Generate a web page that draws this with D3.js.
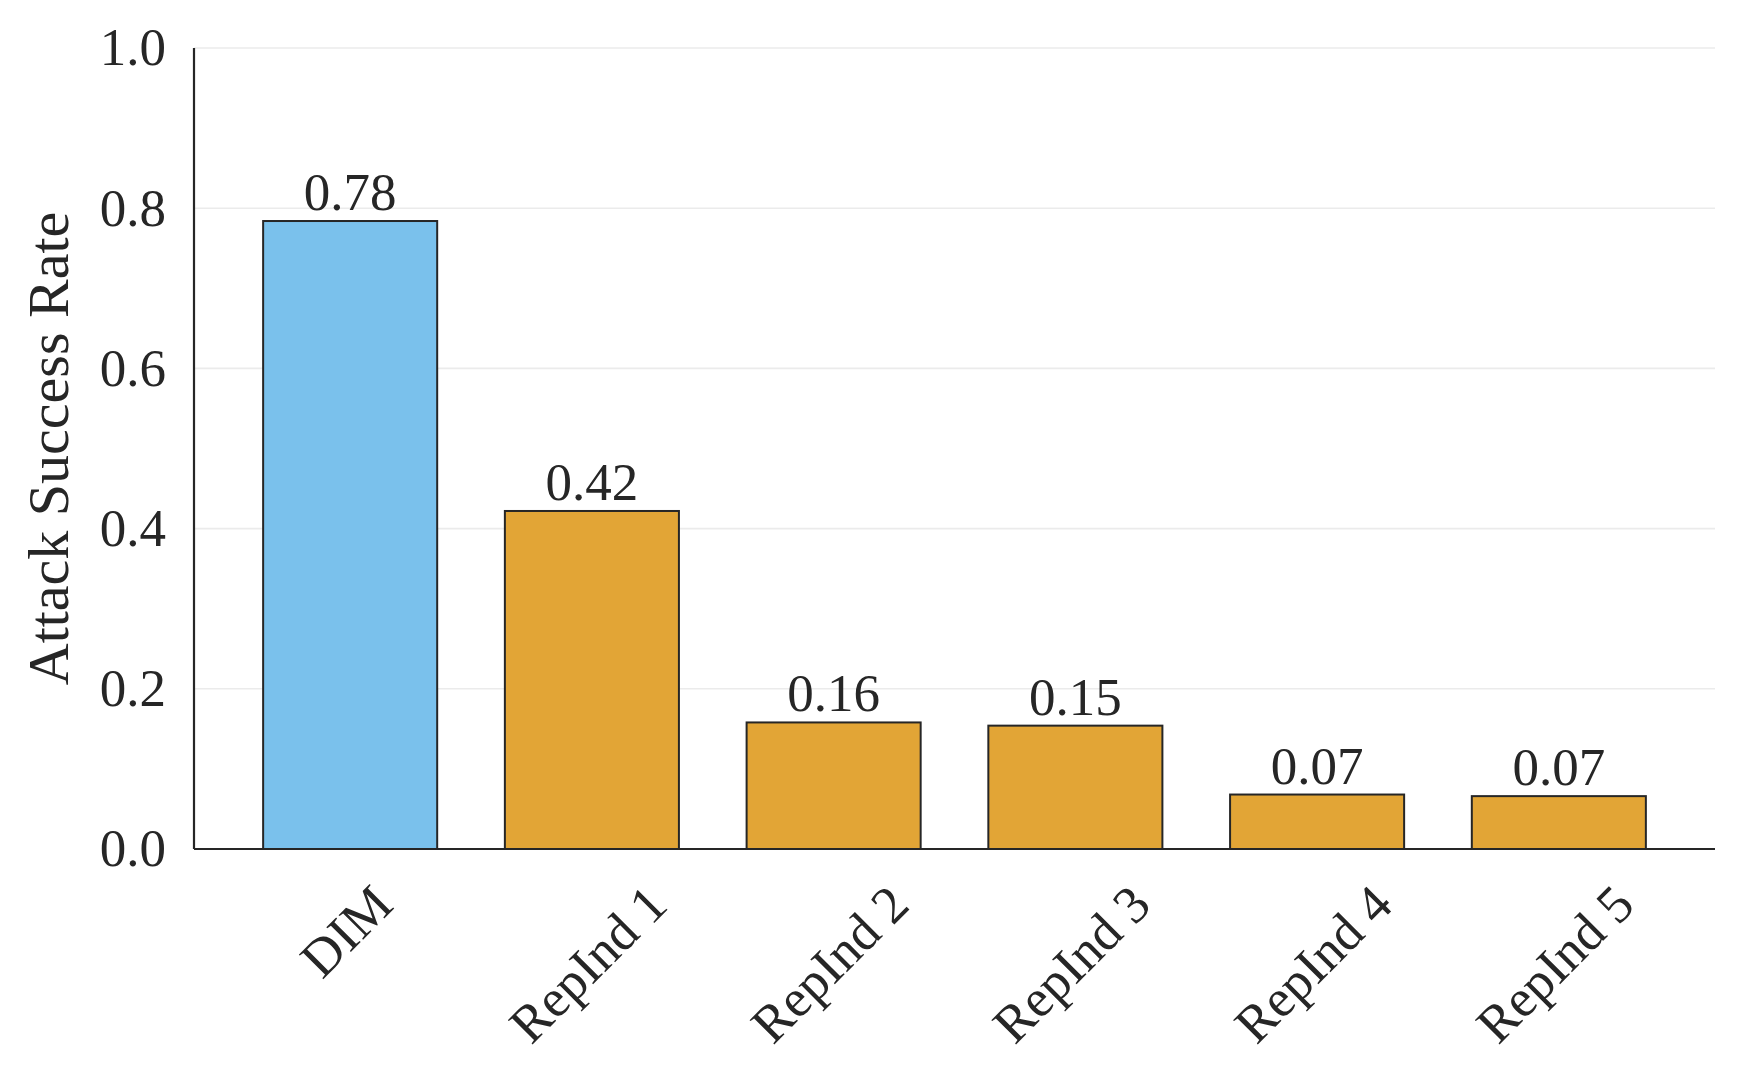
<!DOCTYPE html>
<html>
<head>
<meta charset="utf-8">
<script src="https://cdn.jsdelivr.net/npm/d3@7/dist/d3.min.js"></script>
<style>
  html, body { margin: 0; padding: 0; background: #ffffff; }
  svg { display: block; }
  text { font-family: "Liberation Serif", "Times New Roman", serif; fill: #262626; }
</style>
</head>
<body>
<svg id="chart" width="1744" height="1083"></svg>
<script>
const categories = ["DIM", "RepInd 1", "RepInd 2", "RepInd 3", "RepInd 4", "RepInd 5"];
const values = [0.784, 0.422, 0.158, 0.154, 0.068, 0.066];
const barColors = ["#7AC1EC", "#E2A536", "#E2A536", "#E2A536", "#E2A536", "#E2A536"];
const yTicks = [0.0, 0.2, 0.4, 0.6, 0.8, 1.0];
const yLabel = "Attack Success Rate";

(function () {
const svg = d3.select("#chart");
const mLeft = 194, mRight = 1715, mTop = 48, mBottom = 849;
const ink = "#262626";

const x = d3.scaleBand().domain(categories).range([mLeft, mRight])
  .paddingInner(0.28).paddingOuter(0.286);
const y = d3.scaleLinear().domain([0, 1]).range([mBottom, mTop]);

// grid
svg.append("g").selectAll("line").data(yTicks).join("line")
  .attr("x1", mLeft).attr("x2", mRight)
  .attr("y1", d => y(d)).attr("y2", d => y(d))
  .attr("stroke", "#ebebeb").attr("stroke-width", 1.6);

// bars
svg.append("g").selectAll("rect").data(categories).join("rect")
  .attr("x", d => x(d))
  .attr("width", x.bandwidth())
  .attr("y", (d, i) => y(values[i]))
  .attr("height", (d, i) => y(0) - y(values[i]))
  .attr("fill", (d, i) => barColors[i])
  .attr("stroke", ink).attr("stroke-width", 2);

// value labels
const fmt = d3.format(".2f");
svg.append("g").selectAll("text").data(categories).join("text")
  .attr("x", d => x(d) + x.bandwidth() / 2)
  .attr("y", (d, i) => y(values[i]) - 11)
  .attr("text-anchor", "middle")
  .attr("font-size", 53)
  .text((d, i) => fmt(values[i]));

// y axis
const yAxis = d3.axisLeft(y).tickValues(yTicks).tickFormat(d3.format(".1f")).tickSize(0).tickPadding(28);
const gy = svg.append("g").attr("transform", `translate(${mLeft},0)`).call(yAxis);
gy.select(".domain").remove();
gy.selectAll("text").attr("font-size", 53).attr("font-family", "Liberation Serif").attr("fill", ink).attr("dy", "0.32em");

// x axis ticks (rotated labels, centered)
const fs = 53;
const xg = svg.append("g");
categories.forEach(c => {
  const t = xg.append("text")
    .attr("font-size", fs)
    .attr("text-anchor", "middle")
    .attr("dy", "0.3375em")
    .text(c);
  const w = t.node().getComputedTextLength();
  const h = 1.107 * fs;
  const cx = x(c) + x.bandwidth() / 2 - 4;
  const cy = 874 + (w + h) / (2 * Math.SQRT2);
  t.attr("transform", `translate(${cx},${cy}) rotate(-45)`);
});

// spines
svg.append("line").attr("x1", mLeft).attr("x2", mLeft).attr("y1", mTop).attr("y2", mBottom)
  .attr("stroke", ink).attr("stroke-width", 2.2);
svg.append("line").attr("x1", mLeft).attr("x2", mRight).attr("y1", mBottom).attr("y2", mBottom)
  .attr("stroke", ink).attr("stroke-width", 2.2);

// y label
svg.append("text")
  .attr("transform", `translate(${68},${(mTop + mBottom) / 2}) rotate(-90)`)
  .attr("text-anchor", "middle")
  .attr("font-size", 58)
  .text(yLabel);
})();
</script>
</body>
</html>
